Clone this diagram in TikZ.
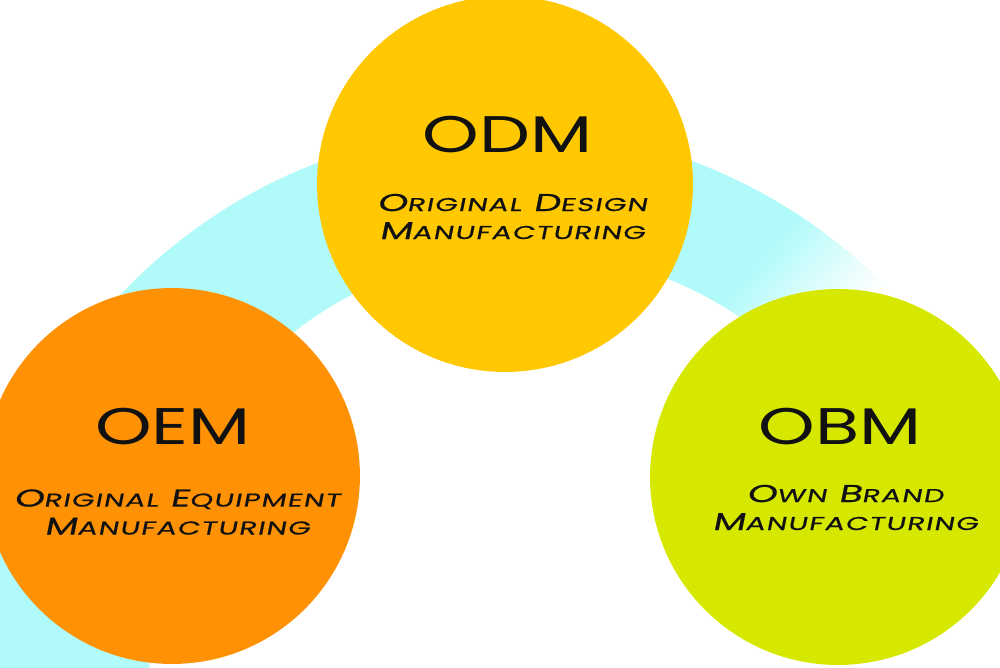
\documentclass[tikz,border=0pt]{standalone}
\usepackage{fontspec}
\newfontfamily\titlef[FakeStretch=1.4]{Poppins}
\newfontfamily\subf[FakeStretch=1.56,FakeSlant=0.2,FakeBold=0.6,LetterSpace=6.5]{Poppins}
\definecolor{bandc}{RGB}{176,250,250}
\definecolor{oemc}{RGB}{255,146,4}
\definecolor{odmc}{RGB}{255,200,0}
\definecolor{obmc}{RGB}{215,232,0}
\definecolor{txtc}{RGB}{17,17,17}
\newcommand\scw[2]{{\fontsize{13.9}{15.9}\selectfont #1}{\fontsize{10.6}{15.9}\selectfont #2}}
\begin{document}
\begin{tikzpicture}[x=0.02cm,y=-0.02cm,
  disc/.style={circle, inner sep=0pt, minimum size=7.52cm},
  titletext/.style={font=\titlef\fontsize{29.3}{32}\selectfont, text=txtc, inner sep=0pt},
  subtext/.style={font=\subf\fontsize{13.9}{15.9}\selectfont, text=txtc, inner sep=0pt, align=center}]
\useasboundingbox (0,0) rectangle (1000,668);
\clip (0,0) rectangle (1000,668);
\fill[white] (0,0) rectangle (1000,668);
% light cyan arc band
\begin{scope}
  \clip (507,659) circle[radius=531];
  \fill[bandc] (0,0) rectangle (1000,668);
  \begin{scope}[shift={(775,235)}, rotate=-41.3]
    \foreach \k in {0,...,21}{
      \pgfmathsetmacro\p{100-\k*100/22}
      \fill[bandc!\p!white] (\k*5,-700) rectangle (\k*5+5.6,700);
    }
    \fill[white] (110,-700) rectangle (900,700);
  \end{scope}
\end{scope}
\fill[white] (527,631) circle[radius=379];
% circles
\node[disc, fill=oemc] (oem) at (172,476) {};
\node[disc, fill=odmc] (odm) at (505,184) {};
\node[disc, fill=obmc] (obm) at (838,477) {};
% texts
\node[titletext] (odmt) at (507.5,134.5) {ODM};
\node[subtext] (odms) at (512,216.5) {\scw{O}{RIGINAL} \scw{D}{ESIGN}\\\scw{M}{ANUFACTURING}};
\node[titletext] (oemt) at (173,426.5) {OEM};
\node[subtext] (oems) at (177,512) {\scw{O}{RIGINAL} \scw{E}{QUIPMENT}\\\scw{M}{ANUFACTURING}};
\node[titletext] (obmt) at (840,426.5) {OBM};
\node[subtext] (obms) at (845,507.5) {\scw{O}{WN} \scw{B}{RAND}\\\scw{M}{ANUFACTURING}};
\end{tikzpicture}
\end{document}
